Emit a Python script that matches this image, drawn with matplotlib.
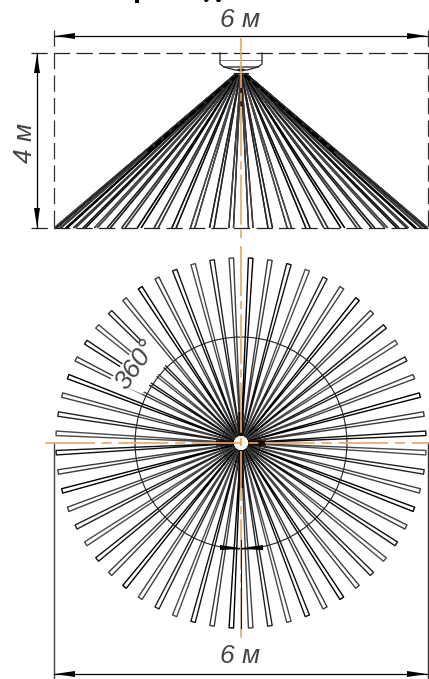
import numpy as np
import matplotlib
matplotlib.use("Agg")
import matplotlib.pyplot as plt
from matplotlib.patches import Polygon, Circle, Ellipse

plt.rcParams['font.family'] = ['Liberation Sans', 'DejaVu Sans']

# Jet directions (degrees clockwise from plan "north")
ray_angles = [3, 9, 15, 21, 27, 33, 39, 45, 51, 57, 63, 69, 75, 81, 87,
              93, 99, 105, 111, 117, 123, 129, 135, 141, 147, 153, 159, 165, 171, 177,
              183, 189, 195, 201, 207, 213, 219, 225, 231, 237, 243, 249, 255, 261, 267,
              273, 279, 285, 291, 297, 303, 309, 315, 321, 327, 333, 339, 345, 351, 357]
ray_shades = ['black', '#3a3a3a', '#111111', '#4a4a4a', '#222222', '#404040']
spray_half_width = 3.0      # metres
room_height = 4.0           # metres
nozzle_height = 3.5         # metres
jet_half_angle = 0.7        # degrees
plan_ray_length = 2.97      # metres
plan_ray_start = 0.13       # metres
plan_circle_radius = 1.70   # metres
width_label = "6 м"
height_label = "4 м"
angle_label = "360°"

W, H = 429, 679
ORANGE = '#e3a868'
INK = '#444444'
fig = plt.figure(figsize=(W / 100, H / 100), dpi=100, facecolor='white')


def box(left, top, right, bottom):
    return [left / W, 1 - bottom / H, (right - left) / W, (bottom - top) / H]


side = fig.add_axes(box(54, 53, 428, 228), xlim=(-3, 3), ylim=(0, 4))
plan = fig.add_axes(box(54, 256, 428, 630), xlim=(-3, 3), ylim=(-3, 3))
over = fig.add_axes([0, 0, 1, 1], xlim=(0, W), ylim=(H, 0))
for a in (side, plan, over):
    a.axis('off')
    a.patch.set_alpha(0)
side.set_zorder(1)
plan.set_zorder(2)
over.set_zorder(3)

# ---- side elevation: jets projected on the x axis
for i, ang in enumerate(ray_angles[:30]):
    c = ray_shades[i % len(ray_shades)]
    for d in (-jet_half_angle, jet_half_angle):
        xe = spray_half_width * np.sin(np.radians(ang + d))
        xs = 0.10 * np.sin(np.radians(ang))
        side.plot([xs, xe], [nozzle_height, 0], color=c, lw=1.0, clip_on=False,
                  solid_capstyle='butt')
        side.plot([-xs, -xe], [nozzle_height, 0], color=c, lw=1.0, clip_on=False,
                  solid_capstyle='butt')
# dark mass close to the nozzle and along the cone edge
for sgn in (-1, 1):
    side.plot([sgn * 0.05, sgn * 1.5], [nozzle_height, nozzle_height * 0.5],
              color='black', lw=2.0, ls=(0, (3, 1)), clip_on=False)
side.plot([0, 0], [nozzle_height, 2.8], color='#3a1a10', lw=2.0, clip_on=False)

# ---- plan view
for i, ang in enumerate(ray_angles):
    c = ray_shades[i % len(ray_shades)]
    t1, t2 = np.radians(ang - jet_half_angle), np.radians(ang + jet_half_angle)
    r0, r1 = plan_ray_start, plan_ray_length
    plan.plot([r0 * np.sin(t1), r1 * np.sin(t1), r1 * np.sin(t2), r0 * np.sin(t2)],
              [r0 * np.cos(t1), r1 * np.cos(t1), r1 * np.cos(t2), r0 * np.cos(t2)],
              color=c, lw=1.0, clip_on=False, zorder=2)
# dark knots on the four main directions
for dx, dy, ln in [(0, 1, 0.50), (0, -1, 0.72), (1, 0, 0.40), (-1, 0, 0.40)]:
    plan.plot([0.12 * dx, ln * dx], [0.12 * dy, ln * dy], color='#1a0d08', lw=4.0,
              solid_capstyle='butt', clip_on=False, zorder=2)

# white mask behind the angle label (hides the jets, not the circle)
plan.add_patch(Polygon([(142, 338), (110, 380), (142, 394), (168, 362)], closed=True,
                       facecolor='white', edgecolor='none',
                       transform=over.transData, zorder=3, clip_on=False))
plan.add_patch(Circle((0, 0), plan_circle_radius, fill=False, edgecolor='#222222', lw=0.8,
                      zorder=4, clip_on=False))
plan.add_patch(Circle((0, 0), 0.10, facecolor='#fff8e8', edgecolor='none',
                      zorder=4, clip_on=False))


def arrow(x0, y0, x1, y1, hw=3.0):
    """Filled drafting arrow head with its tip at (x0, y0)."""
    dx, dy = x1 - x0, y1 - y0
    n = np.hypot(dx, dy)
    px, py = -dy / n * hw, dx / n * hw
    over.add_patch(Polygon([(x0, y0), (x1 + px, y1 + py), (x1 - px, y1 - py)],
                           closed=True, facecolor='black', edgecolor='none'))


# ---- drafting lines (page furniture)
dash = (0, (13, 5))
over.plot([31, 428], [53, 53], color='#222222', lw=0.9, ls=dash)
over.plot([31, 428], [228, 228], color='#222222', lw=0.9, ls=dash)
over.plot([54, 54], [30, 228], color='#333333', lw=0.9, ls=dash)
over.plot([428, 428], [30, 228], color='#333333', lw=0.9, ls=dash)
over.plot([54, 428], [36, 36], color='black', lw=0.9)
arrow(55, 36, 75, 36)
arrow(427, 36, 407, 36)
over.plot([37, 37], [53, 228], color='black', lw=0.9)
arrow(37, 54, 37, 73)
arrow(37, 227, 37, 208)
over.plot([54, 54], [443, 679], color='#444444', lw=1.0)
over.plot([428, 428], [443, 679], color='#333333', lw=1.0)
over.plot([54, 428], [674, 674], color='black', lw=0.9)
arrow(55, 674, 75, 674)
arrow(427, 674, 407, 674)

# nozzle body
over.plot([220, 220, 224, 258, 262, 262], [53, 64, 67, 67, 64, 53], color='#222222', lw=0.9)
over.plot([220, 262], [60, 60], color='#444444', lw=0.5)
over.plot([224, 235, 247, 258], [67, 70, 70, 67], color='#222222', lw=0.9)
over.plot([234, 248], [73, 73], color='#222222', lw=0.9)
over.add_patch(Ellipse((241, 70), 8, 3, facecolor='#222222', edgecolor='none'))

# centre lines
over.plot([241, 241], [38, 238], color=ORANGE, lw=1.2, ls=(0, (30, 3, 5, 3)))
over.plot([241, 241], [246, 640], color=ORANGE, lw=1.2, ls=(0, (30, 3, 5, 3)))
over.plot([45, 429], [443, 443], color=ORANGE, lw=1.2, ls=(0, (30, 4, 6, 4)))
over.plot([241, 241], [540, 628], color='#222222', lw=0.8)

# arrows on the circle bottom
over.add_patch(Polygon([(220, 545), (220, 550), (240, 549), (240, 548)], closed=True,
                       facecolor='black', edgecolor='none'))
over.add_patch(Polygon([(263, 545), (263, 550), (242, 549), (242, 548)], closed=True,
                       facecolor='black', edgecolor='none'))

# labels
lab = dict(style='italic', color=INK, fontsize=19, ha='center', va='center')
over.text(240, 20, width_label, **lab)
over.text(240, 656, width_label, **lab)
over.text(25, 143, height_label, rotation=90, **lab)
over.text(136, 365, angle_label, rotation=55, rotation_mode='anchor', **lab)

# specks left by the cropped heading at the top edge
over.add_patch(Polygon([(135, 0), (139, 0), (139, 3), (135, 3)], closed=True,
                       facecolor='black', edgecolor='none'))
over.add_patch(Polygon([(204, 0), (209, 0), (207, 2), (205, 2)], closed=True,
                       facecolor='black', edgecolor='none'))
over.add_patch(Polygon([(216, 0), (221, 0), (220, 2), (217, 2)], closed=True,
                       facecolor='black', edgecolor='none'))

fig.savefig('out.png', dpi=100)
